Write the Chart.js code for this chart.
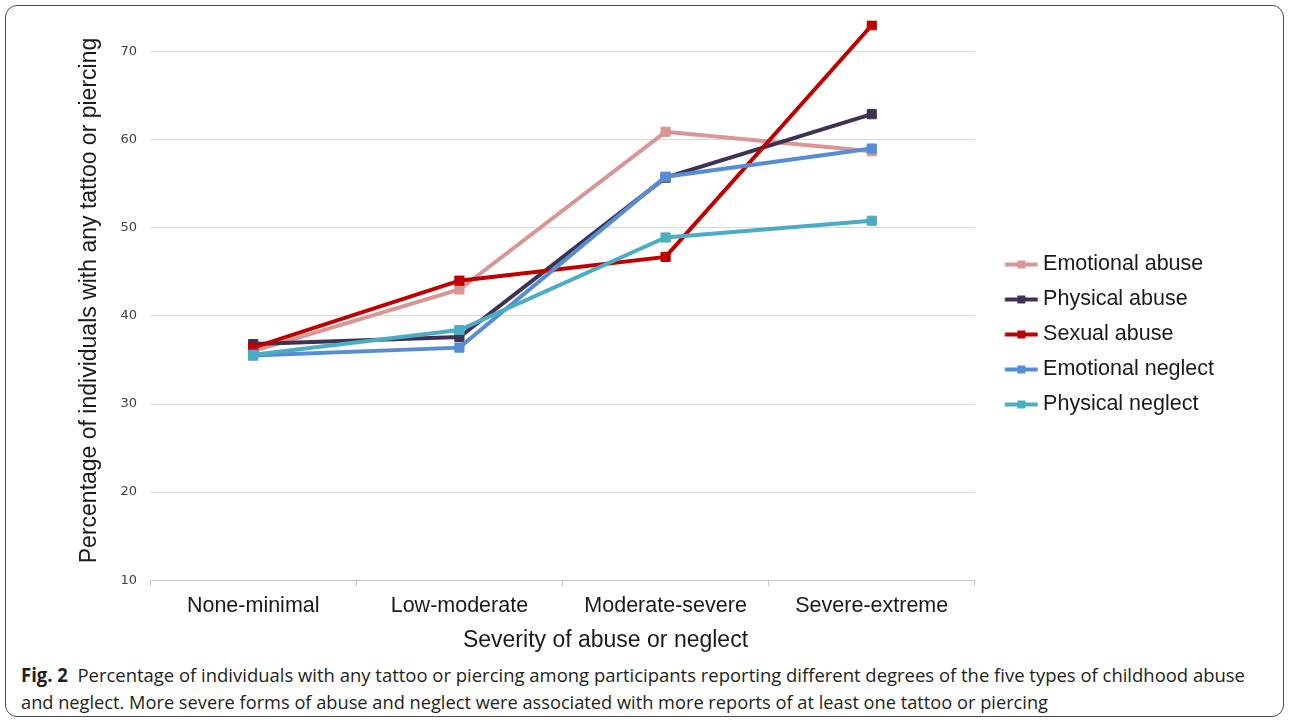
<!DOCTYPE html>
<html><head><meta charset="utf-8">
<script src="https://cdn.jsdelivr.net/npm/chart.js@4/dist/chart.umd.min.js"></script>
<style>
html,body{margin:0;padding:0;background:#fff;width:1290px;height:723px;overflow:hidden}
#card{position:absolute;left:5px;top:5px;width:1279px;height:712px;border:1.5px solid #4a4a4a;border-radius:12px;box-sizing:border-box}
#wrap{position:absolute;left:0;top:0;width:1290px;height:660px}
.cap{position:absolute;left:21px;white-space:nowrap;font-family:"Open Sans";font-size:19px;line-height:24px;color:#231f20;transform-origin:0 50%}
</style></head><body>
<div id="card"></div>
<div id="wrap"><canvas id="c"></canvas></div>
<div class="cap" id="cap1" style="top:663px"><b>Fig. 2</b>&nbsp; Percentage of individuals with any tattoo or piercing among participants reporting different degrees of the five types of childhood abuse</div>
<div class="cap" id="cap2" style="top:690px">and neglect. More severe forms of abuse and neglect were associated with more reports of at least one tattoo or piercing</div>
<script>
const categories = ['None-minimal', 'Low-moderate', 'Moderate-severe', 'Severe-extreme'];
const seriesNames = ['Emotional abuse', 'Physical abuse', 'Sexual abuse', 'Emotional neglect', 'Physical neglect'];
const emotionalAbuse = [36.0, 43.0, 60.9, 58.7];
const physicalAbuse = [36.8, 37.6, 55.7, 62.9];
const sexualAbuse = [36.4, 44.0, 46.7, 73.0];
const emotionalNeglect = [35.5, 36.4, 55.8, 59.0];
const physicalNeglect = [35.6, 38.4, 48.9, 50.8];
const yTicks = [10, 20, 30, 40, 50, 60, 70];
const yTitle = 'Percentage of individuals with any tattoo or piercing';
const xTitle = 'Severity of abuse or neglect';

const colors = ['#D99694', '#3F3151', '#C00000', '#558ED5', '#4BACC6'];
const values = [emotionalAbuse, physicalAbuse, sexualAbuse, emotionalNeglect, physicalNeglect];

function legendIcon(color) {
  const c = document.createElement('canvas');
  c.width = 56; c.height = 12;
  const g = c.getContext('2d');
  g.strokeStyle = color; g.lineWidth = 4;
  g.beginPath(); g.moveTo(22.5, 6); g.lineTo(55.5, 6); g.stroke();
  g.fillStyle = color; g.fillRect(35, 2, 8, 8);
  return c;
}

const datasets = values.map((v, i) => ({
  label: seriesNames[i],
  data: v,
  borderColor: colors[i],
  backgroundColor: colors[i],
  borderWidth: 4,
  pointStyle: 'rect',
  pointRadius: 6.5,
  pointBorderWidth: 1,
  pointHoverRadius: 6.5,
  tension: 0,
  order: 5 - i
}));

const xTitlePlugin = {
  id: 'xTitle',
  afterDraw(chart) {
    const ctx = chart.ctx, a = chart.chartArea;
    ctx.save();
    ctx.font = '23px "Liberation Sans"';
    ctx.fillStyle = '#1a1a1a';
    ctx.textAlign = 'center';
    ctx.textBaseline = 'middle';
    ctx.fillText(xTitle, (a.left + a.right) / 2 + 43, 641);
    ctx.restore();
  }
};

new Chart(document.getElementById('c'), {
  type: 'line',
  data: { labels: categories, datasets },
  plugins: [xTitlePlugin],
  options: {
    responsive: true,
    maintainAspectRatio: false,
    animation: false,
    events: [],
    layout: { padding: { left: 10, right: 66, top: 13.4, bottom: 34 } },
    plugins: {
      tooltip: { enabled: false },
      legend: {
        position: 'right',
        align: 'center',
        title: { display: true, text: ' ', padding: { top: 1, bottom: 1 }, font: { size: 23 } },
        labels: {
          usePointStyle: true,
          pointStyleWidth: 44,
          padding: 13.5,
          color: '#1a1a1a',
          font: { family: '"Liberation Sans"', size: 21.5 },
          generateLabels: () => seriesNames.map((n, i) => ({
            text: n, pointStyle: legendIcon(colors[i]), fillStyle: colors[i],
            strokeStyle: colors[i], lineWidth: 0, datasetIndex: i, hidden: false, fontColor: '#1a1a1a'
          }))
        }
      }
    },
    scales: {
      x: {
        offset: true,
        grid: { display: true, offset: true, drawOnChartArea: false, drawTicks: true, tickLength: 6, color: '#c8c8c8' },
        border: { display: true, color: '#c8c8c8', width: 1 },
        ticks: { padding: 7, color: '#1a1a1a', font: { family: '"Liberation Sans"', size: 21.5 } }
      },
      y: {
        min: 10, max: 73.5,
        afterBuildTicks: (s) => { s.ticks = yTicks.map(v => ({ value: v })); },
        grid: { color: '#d9d9d9', drawTicks: false },
        border: { display: false },
        ticks: { padding: 13, color: '#404040', font: { family: '"DejaVu Sans"', size: 13 } },
        title: { display: true, text: yTitle, color: '#1a1a1a', font: { family: '"Liberation Sans"', size: 23 }, padding: { top: 66, bottom: 4 } }
      }
    }
  }
});

function fitCap(id, target) {
  const el = document.getElementById(id);
  const w = el.getBoundingClientRect().width;
  el.style.transform = 'scaleX(' + (target / w) + ')';
}
fitCap('cap1', 1224);
fitCap('cap2', 1027);
</script>
</body></html>
